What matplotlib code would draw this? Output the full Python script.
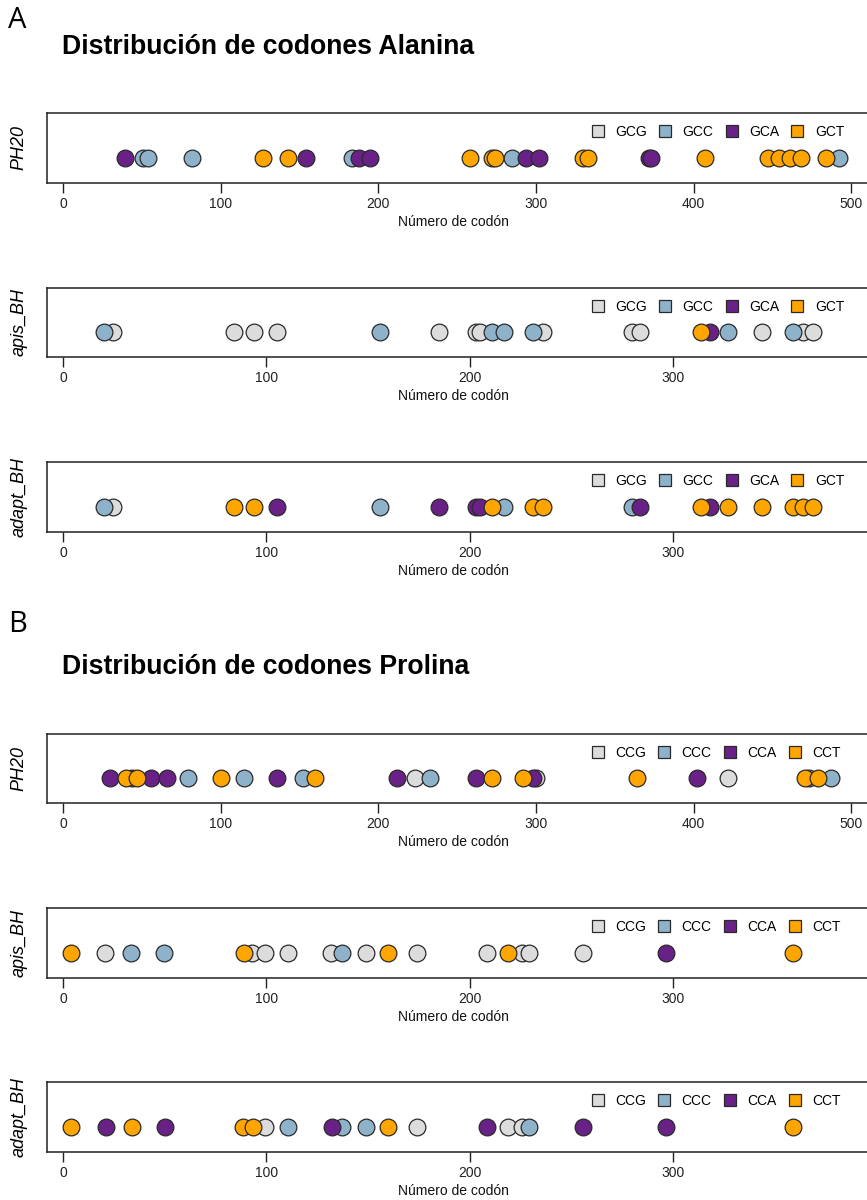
import matplotlib
matplotlib.use('Agg')
import matplotlib.pyplot as plt
from matplotlib.lines import Line2D
import numpy as np

# posiciones de cada codon (numero de codon)
# Alanina
ala_ph20 = {'GCG': [],
            'GCC': [51, 54, 82, 183, 285, 492],
            'GCA': [39, 154, 188, 195, 294, 302, 372, 373],
            'GCT': [127, 143, 258, 272, 274, 330, 333, 407, 447, 454, 461, 468, 484]}
ala_apis = {'GCG': [24.5, 84, 94, 105, 185, 203, 205, 236, 280, 284, 344, 364, 369],
            'GCC': [20, 156, 211, 217, 231, 327, 359],
            'GCA': [318],
            'GCT': [314]}
ala_adapt = {'GCG': [24.5],
             'GCC': [20, 156, 217, 280],
             'GCA': [105, 185, 203, 205, 284, 318],
             'GCT': [84, 94, 211, 231, 236, 314, 327, 344, 359, 364, 369]}
# Prolina
pro_ph20 = {'CCG': [223, 300, 422],
            'CCC': [79, 115, 152, 233, 473, 487],
            'CCA': [30, 44, 56, 66, 136, 212, 262, 298, 402],
            'CCT': [40, 47, 100, 160, 272, 292, 364, 471, 479]}
pro_apis = {'CCG': [20.7, 93, 99.5, 110.6, 131.6, 149, 174, 208.7, 225.6, 229.4, 256],
            'CCC': [33.5, 49.6, 137],
            'CCA': [296.5],
            'CCT': [4, 88.8, 160, 219, 359]}
pro_adapt = {'CCG': [99.5, 174, 219, 225.6],
             'CCC': [110.6, 137, 149, 229.4],
             'CCA': [21, 49.9, 132.2, 208.7, 256, 296.5],
             'CCT': [4, 33.8, 88.6, 93.2, 160, 359]}

ala_codons = ['GCG', 'GCC', 'GCA', 'GCT']
pro_codons = ['CCG', 'CCC', 'CCA', 'CCT']
colores = ['#DCDCDC', '#8DB2C9', '#6A2187', '#FFA500']
# orden en que se dibujan (gris, naranja, azul, morado)
orden = [0, 3, 1, 2]

paneles = [
    (ala_ph20, ala_codons, 'PH20', 113, 183, (-10.2, 531), [0, 100, 200, 300, 400, 500]),
    (ala_apis, ala_codons, 'apis_BH', 288, 357, (-7.9, 411.7), [0, 100, 200, 300]),
    (ala_adapt, ala_codons, 'adapt_BH', 462, 532, (-7.9, 411.7), [0, 100, 200, 300]),
    (pro_ph20, pro_codons, 'PH20', 734, 803, (-10.2, 531), [0, 100, 200, 300, 400, 500]),
    (pro_apis, pro_codons, 'apis_BH', 908, 978, (-7.9, 411.7), [0, 100, 200, 300]),
    (pro_adapt, pro_codons, 'adapt_BH', 1082, 1152, (-7.9, 411.7), [0, 100, 200, 300]),
]

W, H = 867, 1200
fig = plt.figure(figsize=(W / 100, H / 100), dpi=100)
plt.rcParams['font.family'] = ['Liberation Sans', 'DejaVu Sans']

left_px, right_px = 47, 900
for datos, codones, nombre, top, bot, xlim, ticks in paneles:
    ax = fig.add_axes([left_px / W, 1 - bot / H, (right_px - left_px) / W, (bot - top) / H])
    for i in orden:
        x = datos[codones[i]]
        ax.scatter(x, np.zeros(len(x)), s=145, c=colores[i], edgecolors='#2a2a2a',
                   linewidths=0.9, zorder=3 + i)
    ax.set_xlim(*xlim)
    ax.set_ylim(-1, 1.8)
    ax.set_yticks([])
    ax.set_xticks(ticks)
    ax.tick_params(axis='x', length=7, width=1, pad=3, labelsize=10, colors='#222222')
    for sp in ax.spines.values():
        sp.set_linewidth(1.1)
        sp.set_color('#222222')
    ax.set_xlabel('Número de codón', fontsize=10, color='#111111', va='center')
    ax.xaxis.set_label_coords((453 - left_px) / (right_px - left_px), -39 / (bot - top))
    ax.set_ylabel(nombre, fontsize=13, style='italic', va='center')
    ax.yaxis.set_label_coords((19 - left_px) / (right_px - left_px), 0.5)
    handles = [Line2D([], [], marker='s', ls='', markersize=8, markerfacecolor=c,
                      markeredgecolor='#2a2a2a', markeredgewidth=0.9) for c in colores]
    ax.legend(handles, codones, ncol=4, loc='center left', frameon=False,
              bbox_to_anchor=(592 / W, 1 - (top + 19) / H), bbox_transform=fig.transFigure,
              fontsize=10, handlelength=0.8, handletextpad=0.86,
              columnspacing=0.91, borderpad=0, borderaxespad=0)

# letras y titulos
fig.text(8 / W, 1 - 20 / H, 'A', fontsize=21, family='Open Sans', va='center', ha='left')
fig.text(8 / W, 1 - 625 / H, 'B', fontsize=21, family='Open Sans', va='center', ha='left')
fig.text(62 / W, 1 - 47 / H, 'Distribución de codones Alanina', fontsize=19.2,
         fontweight='bold', va='center', ha='left')
fig.text(62 / W, 1 - 667 / H, 'Distribución de codones Prolina', fontsize=19.2,
         fontweight='bold', va='center', ha='left')

fig.savefig('out.png', dpi=100)
